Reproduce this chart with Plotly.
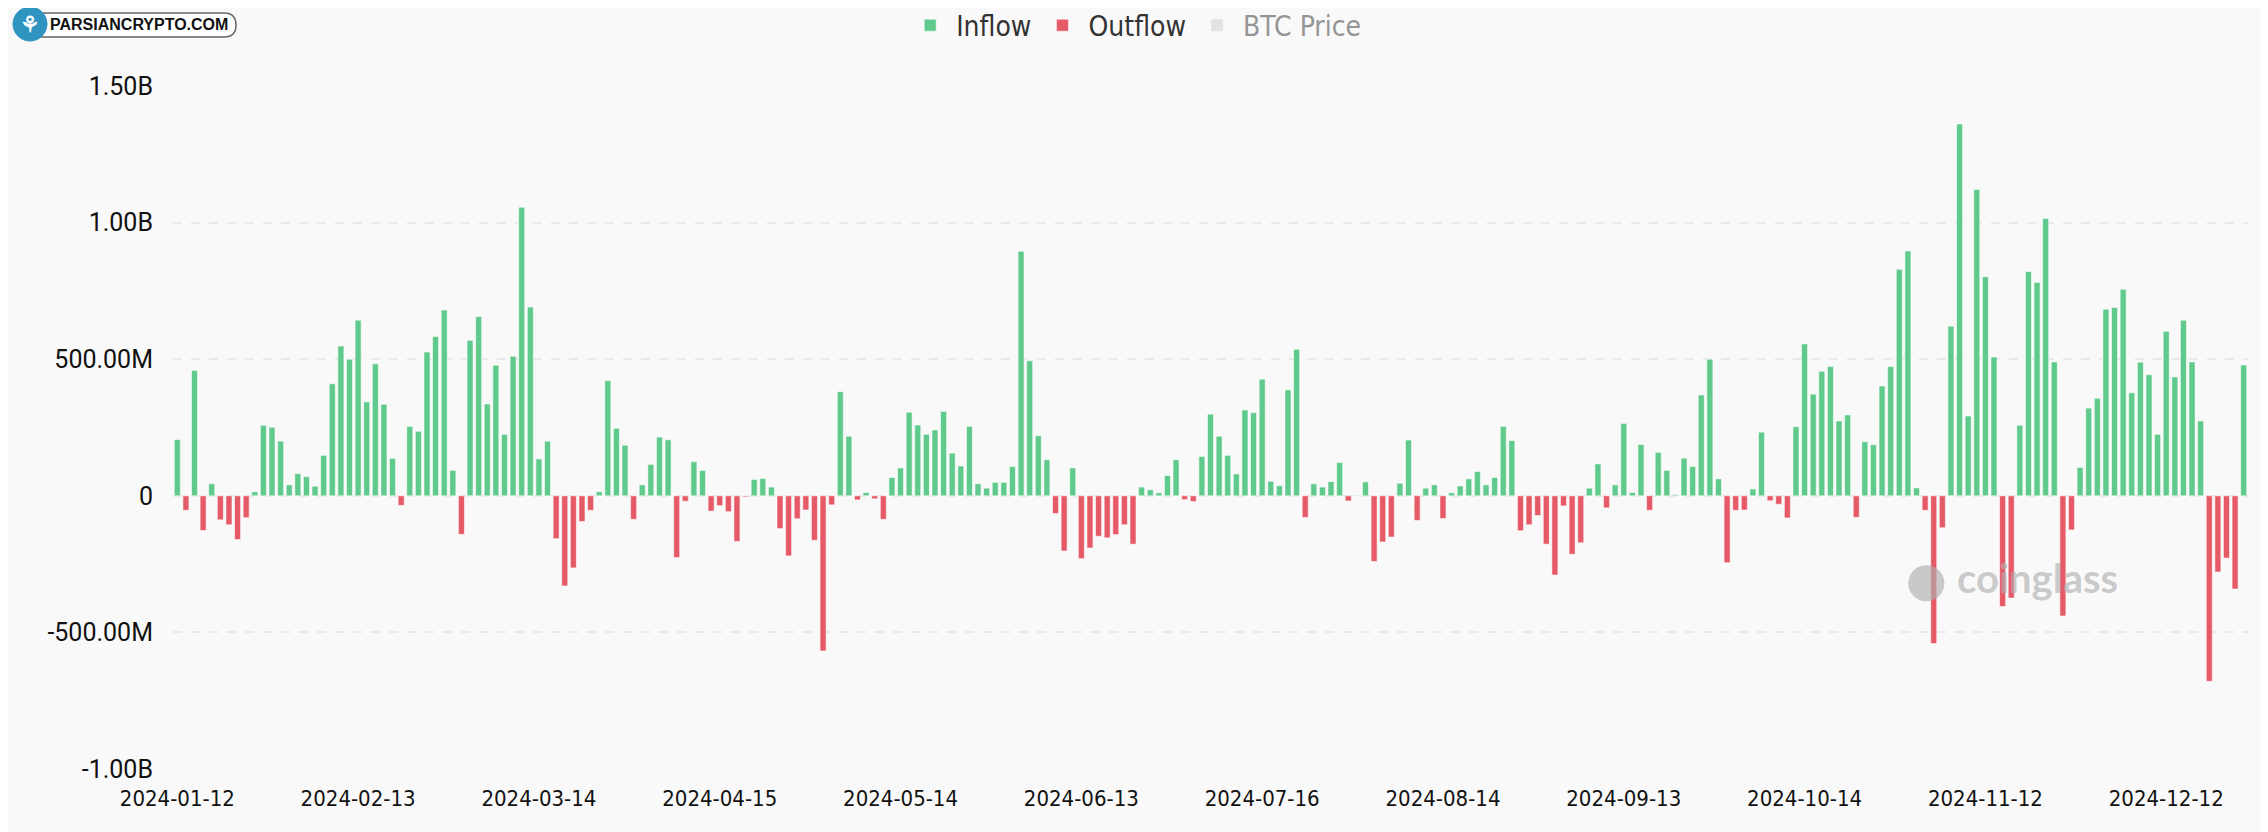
import pandas as pd
import plotly.graph_objects as go

# ---- data (net daily flow, millions USD) ----
start_date = "2024-01-12"
end_date = "2024-12-26"
market_holidays = ["2024-01-15", "2024-02-19", "2024-03-29", "2024-05-27", "2024-06-19",
                   "2024-07-04", "2024-09-02", "2024-11-28", "2024-12-25"]
dates = [d.strftime("%Y-%m-%d") for d in pd.bdate_range(start_date, end_date)
         if d.strftime("%Y-%m-%d") not in market_holidays]

net_flow_m = [
    206, -53, 459, -127, 44, -88, -106, -160, -80, 15,
    258, 251, 200, 40, 81, 70, 35, 148, 410, 548,
    500, 643, 344, 483, 335, 137, -35, 254, 236, 526,
    583, 680, 93, -141, 569, 656, 336, 478, 225, 511,
    1056, 691, 135, 200, -157, -330, -264, -94, -53, 15,
    422, 247, 185, -86, 40, 115, 215, 205, -226, -20,
    125, 93, -56, -36, -58, -167, -4, 60, 63, 32,
    -120, -220, -84, -52, -163, -568, -33, 381, 218, -15,
    12, -11, -86, 67, 102, 306, 259, 225, 241, 309,
    156, 109, 254, 44, 28, 49, 49, 107, 895, 494,
    220, 132, -65, -202, 102, -230, -191, -148, -154, -142,
    -106, -177, 32, 22, 11, 74, 132, -14, -21, 144,
    299, 218, 148, 80, 314, 304, 427, 53, 37, 388,
    536, -79, 44, 32, 52, 122, -19, 2, 51, -240,
    -169, -151, 46, 204, -90, 28, 40, -83, 11, 36,
    62, 89, 40, 67, 254, 202, -128, -106, -72, -177,
    -290, -37, -214, -172, 28, 117, -44, 40, 265, 12,
    188, -53, 159, 93, 4, 138, 107, 369, 500, 62,
    -245, -53, -52, 25, 233, -18, -31, -81, 253, 556,
    372, 456, 473, 274, 296, -79, 198, 187, 402, 473,
    829, 896, 29, -53, -541, -117, 621, 1361, 292, 1121,
    802, 508, -405, -374, 258, 821, 781, 1015, 490, -440,
    -125, 104, 321, 357, 683, 689, 756, 377, 489, 443,
    225, 602, 435, 643, 490, 274, -679, -279, -228, -341,
    479,
]

x_tick_labels = ["2024-01-12", "2024-02-13", "2024-03-14", "2024-04-15", "2024-05-14",
                 "2024-06-13", "2024-07-16", "2024-08-14", "2024-09-13", "2024-10-14",
                 "2024-11-12", "2024-12-12"]
y_tick_vals = [-1.0e9, -0.5e9, 0, 0.5e9, 1.0e9, 1.5e9]
y_tick_text = ["-1.00B", "-500.00M", "0", "500.00M", "1.00B", "1.50B"]

n = min(len(dates), len(net_flow_m))
dates = dates[:n]
inflow = [v * 1e6 if v > 0 else None for v in net_flow_m[:n]]
outflow = [v * 1e6 if v < 0 else None for v in net_flow_m[:n]]

GREEN = "#5fca8b"
RED = "#e65a67"
BG = "#f9f9f9"
CONDENSED = "DejaVu Sans Condensed, Liberation Sans Narrow, sans-serif"

# figure / plot area in pixels (the page adds an 8px body margin)
OFF = 8
W, H = 2268, 832
ML, MR, MT, MB = 165, 28, 78, 71
PW, PH = W - ML - MR, H - MT - MB


def px(x):
    """page x pixel -> paper coordinate"""
    return (x - OFF - ML) / PW


def py(y):
    """page y pixel (from top) -> paper coordinate"""
    return (H - MB - (y - OFF)) / PH


fig = go.Figure()
fig.add_trace(go.Bar(x=dates, y=inflow, name="Inflow",
                     marker=dict(color=GREEN, line=dict(color="rgba(255,255,255,0.55)", width=1))))
fig.add_trace(go.Bar(x=dates, y=outflow, name="Outflow",
                     marker=dict(color=RED, line=dict(color="rgba(255,255,255,0.55)", width=1))))
fig.add_trace(go.Bar(x=[dates[0]], y=[0], name="BTC Price", visible="legendonly",
                     marker=dict(color="#cccccc")))

fig.update_layout(
    width=W, height=H,
    paper_bgcolor=BG, plot_bgcolor=BG,
    margin=dict(l=ML, r=MR, t=MT, b=MB, autoexpand=False),
    barmode="relative", bargap=0.3,
    showlegend=True,
    legend=dict(orientation="h", xref="container", yref="container", x=0.497, y=0.979,
                xanchor="center", yanchor="middle", itemwidth=42,
                font=dict(family=CONDENSED, size=28, color="#333333"),
                bgcolor="rgba(0,0,0,0)"),
    font=dict(family="Roboto, sans-serif", color="#222222"),
)
fig.update_xaxes(type="category", range=[-0.5, n - 0.5], showgrid=False, zeroline=False,
                 showline=False, ticks="", tickmode="array", tickvals=x_tick_labels,
                 ticktext=x_tick_labels, tickangle=0, automargin=False, ticklabelstandoff=14,
                 tickfont=dict(family=CONDENSED, size=22, color="#111111"))
fig.update_yaxes(range=[-1.0e9, 1.5e9], tickmode="array", tickvals=y_tick_vals, ticktext=y_tick_text,
                 showgrid=True, gridcolor="#e9e9e9", griddash="dash", gridwidth=1.5,
                 zeroline=False, showline=False, ticklabelstandoff=19, automargin=False,
                 tickfont=dict(family="Roboto, sans-serif", size=25, color="#111111"))

# PARSIANCRYPTO logo (top-left): rounded pill, blue disc, text
pill = (f"M {px(30)},{py(13)} L {px(224)},{py(13)} Q {px(236)},{py(13)} {px(236)},{py(25)} "
        f"Q {px(236)},{py(37)} {px(224)},{py(37)} L {px(30)},{py(37)} Z")
fig.add_shape(type="path", xref="paper", yref="paper", path=pill,
              fillcolor="#ffffff", line=dict(color="#666666", width=1.5), layer="above")
fig.add_shape(type="circle", xref="paper", yref="paper", x0=px(13), x1=px(47), y0=py(41), y1=py(7),
              fillcolor="#2f95c0", line=dict(color="#2f95c0", width=1), layer="above")
fig.add_annotation(xref="paper", yref="paper", x=px(30), y=py(25), xanchor="center", yanchor="middle",
                   text="<b>⚘</b>", showarrow=False, font=dict(size=22, color="#ffffff"))
fig.add_annotation(xref="paper", yref="paper", x=px(48), y=py(25), xanchor="left", yanchor="middle",
                   text="PARSIANCRYPTO.COM", showarrow=False,
                   font=dict(family="Liberation Sans, Arial, sans-serif", size=16, color="#111111", weight=600))

# coinglass watermark
fig.add_annotation(xref="paper", yref="paper", x=px(1926), y=py(578), xanchor="center", yanchor="middle",
                   text="●", showarrow=False, font=dict(size=84, color="rgba(175,175,175,0.65)"))
fig.add_annotation(xref="paper", yref="paper", x=px(1955), y=py(578), xanchor="left", yanchor="middle",
                   text="<b>coinglass</b>", showarrow=False,
                   font=dict(family="Lato, Roboto, sans-serif", size=40, color="rgba(175,175,175,0.65)"))

fig.write_html("out.html")
